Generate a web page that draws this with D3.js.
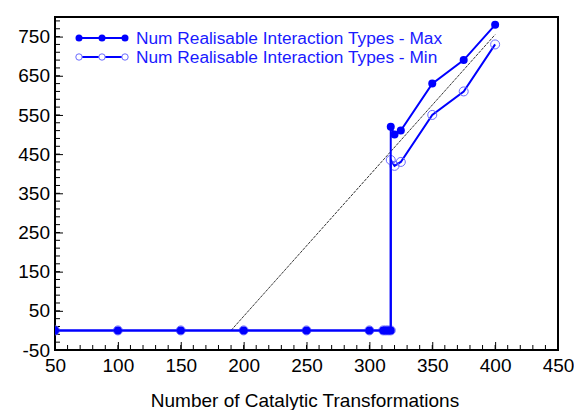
<!DOCTYPE html>
<html>
<head>
<meta charset="utf-8">
<script src="https://cdn.jsdelivr.net/npm/d3@7"></script>
<style>
  body { margin: 0; background: #fff; }
  text { font-family: Arial, "Liberation Sans", sans-serif; }
</style>
</head>
<body>
<div id="chart"></div>
<script>
"use strict";

// data
var xValues = [50, 100, 150, 200, 250, 300, 311, 313, 315, 317, 317, 320, 325, 350, 375, 400];
var maxValues = [0, 0, 0, 0, 0, 0, 0, 0, 0, 0, 520, 500, 510, 630, 690, 780];
var minValues = [0, 0, 0, 0, 0, 0, 0, 0, 0, 0, 435, 420, 430, 550, 610, 730];
var trendX = [190, 400];
var trendY = [0, 755];
var xTicks = [50, 100, 150, 200, 250, 300, 350, 400, 450];
var yTicks = [-50, 50, 150, 250, 350, 450, 550, 650, 750];
var seriesNames = ["Num Realisable Interaction Types - Max", "Num Realisable Interaction Types - Min"];

var svg = d3.select("#chart").append("svg")
    .attr("width", 574)
    .attr("height", 410),
    margin = { top: 17, right: 16, bottom: 60, left: 55 },
    width = +svg.attr("width") - margin.left - margin.right,
    height = +svg.attr("height") - margin.top - margin.bottom;

var x = d3.scaleLinear().domain([50, 450]).range([0, width]),
    y = d3.scaleLinear().domain([-50, 800]).range([height, 0]);

var g = svg.append("g")
    .attr("transform", "translate(" + margin.left + "," + margin.top + ")");

g.append("clipPath").attr("id", "plotClip")
    .append("rect").attr("width", width).attr("height", height);

// minor ticks (drawn by hand, they point inward)
var xMinor = d3.range(50, 451, 10), yMinor = d3.range(-50, 801, 20);
g.selectAll(".xminor").data(xMinor).enter().append("line")
    .attr("x1", function (d) { return x(d); }).attr("x2", function (d) { return x(d); })
    .attr("y1", height).attr("y2", height - 5)
    .attr("stroke", "#000");
g.selectAll(".yminor").data(yMinor).enter().append("line")
    .attr("y1", function (d) { return y(d); }).attr("y2", function (d) { return y(d); })
    .attr("x1", 0).attr("x2", 5)
    .attr("stroke", "#000");

// plain hyphen for negatives, like the original
var fmt = function (d) { return String(d); };

var xAxis = g.append("g")
    .attr("transform", "translate(0," + height + ")")
    .call(d3.axisBottom(x).tickValues(xTicks).tickFormat(fmt).tickSize(-8).tickPadding(9));
var yAxis = g.append("g")
    .call(d3.axisLeft(y).tickValues(yTicks).tickFormat(fmt).tickSize(-8).tickPadding(5));

[xAxis, yAxis].forEach(function (a) {
    a.select(".domain").remove();
    a.selectAll("text").attr("font-size", "19px").attr("fill", "#000")
        .attr("font-family", "Arial, 'Liberation Sans', sans-serif");
    a.selectAll("line").attr("stroke", "#000");
});

// frame
g.append("rect")
    .attr("width", width).attr("height", height)
    .attr("fill", "none").attr("stroke", "#000").attr("stroke-width", 2);

var plot = g.append("g").attr("clip-path", "url(#plotClip)");

// trend line
plot.append("line")
    .attr("x1", x(trendX[0])).attr("y1", y(trendY[0]))
    .attr("x2", x(trendX[1])).attr("y2", y(trendY[1]))
    .attr("stroke", "#000").attr("stroke-width", 0.8)
    .attr("stroke-dasharray", "3,1");

var line = d3.line()
    .x(function (d) { return x(d[0]); })
    .y(function (d) { return y(d[1]); });

var minData = xValues.map(function (v, i) { return [v, minValues[i]]; });
var maxData = xValues.map(function (v, i) { return [v, maxValues[i]]; });

plot.append("path").datum(minData)
    .attr("d", line).attr("fill", "none")
    .attr("stroke", "#0000ff").attr("stroke-width", 2);
plot.selectAll(".minPt").data(minData).enter().append("circle")
    .attr("cx", function (d) { return x(d[0]); })
    .attr("cy", function (d) { return y(d[1]); })
    .attr("r", 4.5).attr("fill", "none")
    .attr("stroke", "#6a6aff").attr("stroke-width", 1);

plot.append("path").datum(maxData)
    .attr("d", line).attr("fill", "none")
    .attr("stroke", "#0000ff").attr("stroke-width", 2);
plot.selectAll(".maxPt").data(maxData).enter().append("circle")
    .attr("cx", function (d) { return x(d[0]); })
    .attr("cy", function (d) { return y(d[1]); })
    .attr("r", 4).attr("fill", "#0000ff");

// legend
var legend = svg.append("g");
[0, 1].forEach(function (i) {
    var ly = 38 + i * 19;
    legend.append("line")
        .attr("x1", 79).attr("x2", 125).attr("y1", ly).attr("y2", ly)
        .attr("stroke", "#0000ff").attr("stroke-width", 2);
    [79, 102, 125].forEach(function (cx) {
        var c = legend.append("circle").attr("cx", cx).attr("cy", ly);
        if (i === 0) c.attr("r", 3.5).attr("fill", "#0000ff");
        else c.attr("r", 3.2).attr("fill", "#fff").attr("stroke", "#6a6aff").attr("stroke-width", 1);
    });
    legend.append("text")
        .attr("x", 136).attr("y", ly + 5.5)
        .attr("font-size", "17.3px").attr("fill", "#1a1aff")
        .text(seriesNames[i]);
});

svg.append("text")
    .attr("x", 305).attr("y", 407)
    .attr("text-anchor", "middle")
    .attr("font-size", "19px")
    .text("Number of Catalytic Transformations");
</script>
</body>
</html>
